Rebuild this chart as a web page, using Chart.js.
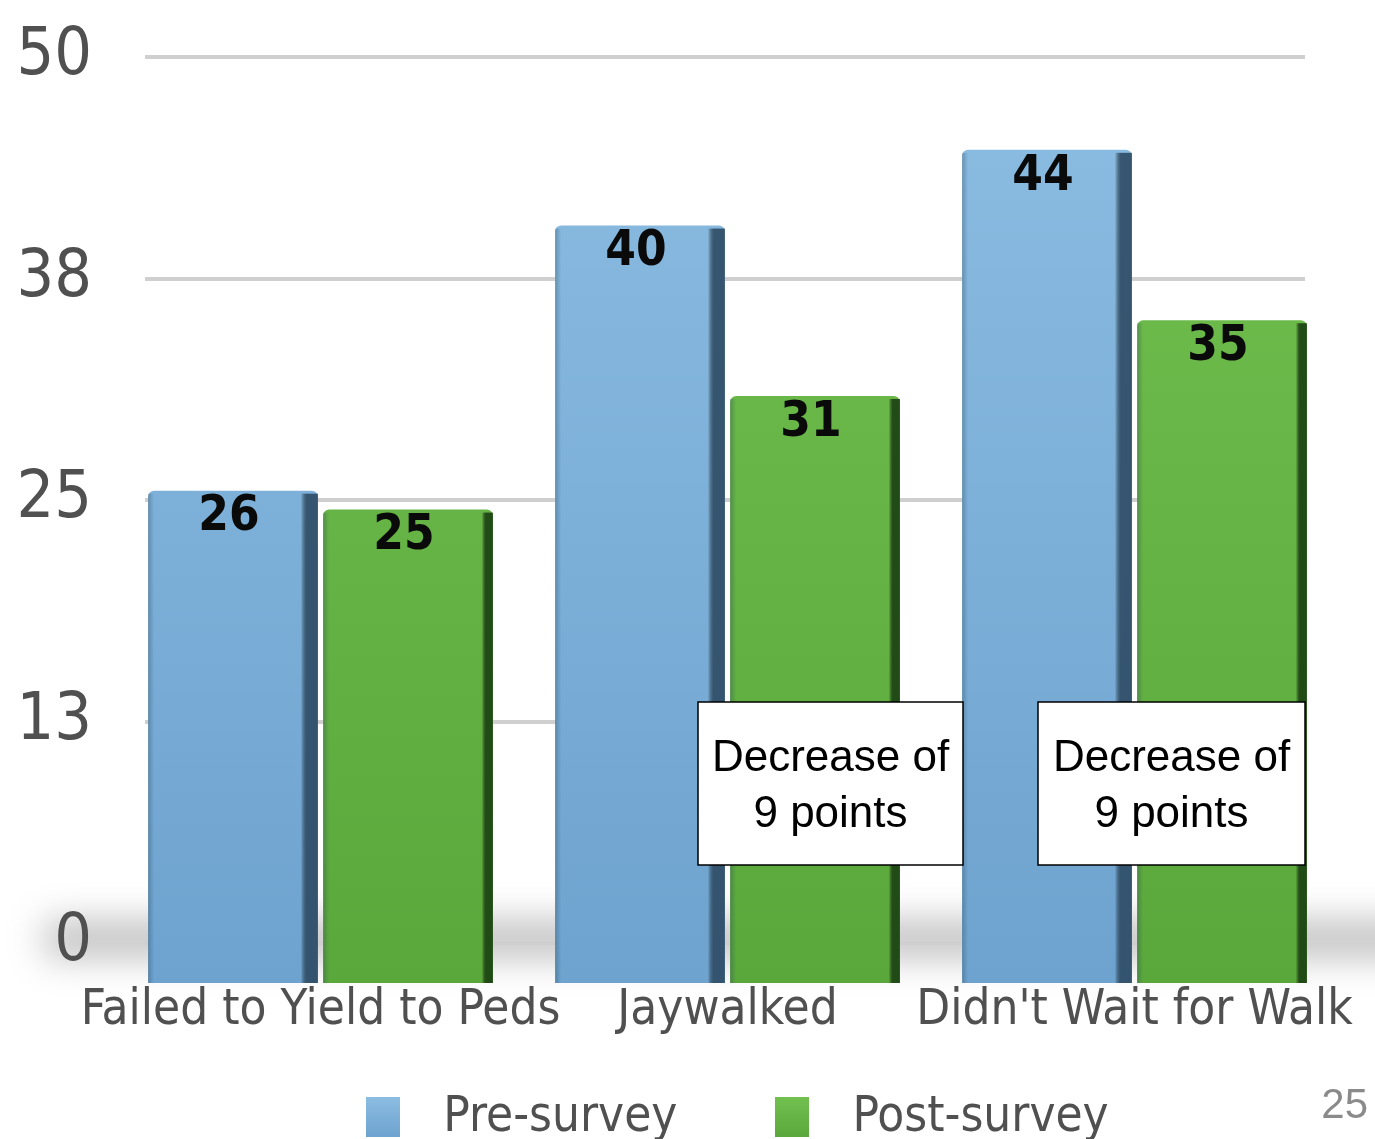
<!DOCTYPE html>
<html>
<head>
<meta charset="utf-8">
<script src="https://cdn.jsdelivr.net/npm/chart.js@4.4.1/dist/chart.umd.min.js"></script>
<style>
  html, body { margin: 0; padding: 0; background: #fff; }
  #wrap { position: relative; width: 1375px; height: 1139px; overflow: hidden; }
  #chart-survey { position: absolute; left: 0; top: 0; }
  #legend {
    position: absolute; left: 0; width: 1375px; top: 1087px;
    box-sizing: border-box; padding-left: 100px;
    display: flex; justify-content: center; align-items: flex-start; gap: 98px;
    font-family: "DejaVu Sans Condensed", "Liberation Sans", sans-serif;
    font-size: 49px; color: #505050; line-height: 56px;
  }
  #legend .item { display: flex; align-items: flex-start; gap: 43px; }
  #legend .box { width: 34px; height: 40px; margin-top: 10px; }
  #page-no {
    position: absolute; right: 7px; top: 1080px;
    font-family: "Liberation Sans", Arial, sans-serif; font-size: 42px; color: #8a8a8a;
  }
</style>
</head>
<body>
<div id="wrap">
  <canvas id="chart-survey" width="1375" height="1139"></canvas>
  <div id="legend"></div>
  <div id="page-no">25</div>
</div>
<script>
// データ
const categories = ["Failed to Yield to Peds", "Jaywalked", "Didn't Wait for Walk"];
const seriesNames = ["Pre-survey", "Post-survey"];
const preSurvey = [26, 40, 44];
const postSurvey = [25, 31, 35];
const wallTicks = [0, 12.5, 25, 37.5, 50];
const noteLines = ["Decrease of", "9 points"];
const noteCategories = [1, 2];

// 見た目の設定
const narrowFont = '"DejaVu Sans Condensed", "Liberation Sans", sans-serif';
const barColors = [
  { top: "#8cbde2", bottom: "#6ea3cf", edge: "rgba(45, 75, 100, 0.9)", edgeWidth: 17 },
  { top: "#72c04f", bottom: "#5aa83b", edge: "rgba(30, 70, 20, 0.95)", edgeWidth: 11 },
];
// 注記ボックスの位置（キャンバス座標）
const noteBoxes = [
  { left: 698, top: 702, width: 265, height: 163 },
  { left: 1038, top: 702, width: 267, height: 163 },
];

const canvas = document.getElementById("chart-survey");

// 床の影（棒の下にぼかした帯）
const floorShadow = {
  id: "floorShadow",
  beforeDraw(chart) {
    const c = chart.ctx;
    const wall = chart.scales.wall;
    const y0 = wall.getPixelForValue(0);
    c.save();
    c.filter = "blur(18px)";
    c.fillStyle = "rgba(0, 0, 0, 0.26)";
    c.fillRect(45, y0 - 22, 1420, 36);
    c.restore();
  },
};

// 奥の壁の目盛り線
const wallGrid = {
  id: "wallGrid",
  beforeDatasetsDraw(chart) {
    const c = chart.ctx;
    const wall = chart.scales.wall;
    const area = chart.chartArea;
    c.save();
    c.strokeStyle = "#cfcfcf";
    c.lineWidth = 4;
    wall.ticks.forEach((t) => {
      const y = Math.round(wall.getPixelForValue(t.value));
      c.beginPath();
      c.moveTo(area.left + 28, y);
      c.lineTo(area.right - 33, y);
      c.stroke();
    });
    c.restore();
  },
};

// 棒の右側面と数値ラベル
const barDecor = {
  id: "barDecor",
  afterDatasetsDraw(chart) {
    const c = chart.ctx;
    chart.data.datasets.forEach((ds, di) => {
      const meta = chart.getDatasetMeta(di);
      const style = barColors[di];
      meta.data.forEach((bar, i) => {
        const p = bar.getProps(["x", "y", "base", "width"], true);
        const right = p.x + p.width / 2;
        const left = p.x - p.width / 2;
        c.save();
        const g = c.createLinearGradient(right - style.edgeWidth, 0, right, 0);
        g.addColorStop(0, "rgba(0,0,0,0)");
        g.addColorStop(0.35, style.edge);
        g.addColorStop(1, style.edge);
        c.fillStyle = g;
        c.fillRect(right - style.edgeWidth, p.y + 3, style.edgeWidth, p.base - p.y - 3);
        const lg = c.createLinearGradient(left, 0, left + 6, 0);
        lg.addColorStop(0, "rgba(40,70,90,0.35)");
        lg.addColorStop(1, "rgba(40,70,90,0)");
        c.fillStyle = lg;
        c.fillRect(left, p.y + 3, 6, p.base - p.y - 3);

        c.fillStyle = "#0a0a0a";
        c.font = "bold 49px " + narrowFont;
        c.textAlign = "center";
        c.textBaseline = "middle";
        c.fillText(String(ds.data[i]), p.x - 4, p.y + 27);
        c.restore();
      });
    });
  },
};

// 注記ボックス
const notes = {
  id: "notes",
  afterDraw(chart) {
    const c = chart.ctx;
    c.save();
    noteCategories.forEach((cat, k) => {
      const b = noteBoxes[k];
      c.fillStyle = "#ffffff";
      c.fillRect(b.left, b.top, b.width, b.height);
      c.strokeStyle = "#000000";
      c.lineWidth = 1.5;
      c.strokeRect(b.left, b.top, b.width, b.height);
      c.fillStyle = "#000000";
      c.font = '44px "Liberation Sans", Arial, sans-serif';
      c.textAlign = "center";
      c.textBaseline = "middle";
      noteLines.forEach((line, j) => {
        c.fillText(line, b.left + b.width / 2, b.top + 57 + j * 56);
      });
    });
    c.restore();
  },
};

function barFill(di) {
  return (ctx) => {
    const area = ctx.chart.chartArea;
    if (!area) return barColors[di].bottom;
    const g = ctx.chart.ctx.createLinearGradient(0, area.top, 0, area.bottom);
    g.addColorStop(0, barColors[di].top);
    g.addColorStop(1, barColors[di].bottom);
    return g;
  };
}

const chart = new Chart(canvas, {
  type: "bar",
  data: {
    labels: categories,
    datasets: [
      { label: seriesNames[0], data: preSurvey, backgroundColor: barFill(0), yAxisID: "y" },
      { label: seriesNames[1], data: postSurvey, backgroundColor: barFill(1), yAxisID: "y" },
    ],
  },
  options: {
    responsive: false,
    animation: false,
    layout: { padding: { left: 0, right: 37, top: 57, bottom: 102 } },
    datasets: {
      bar: {
        categoryPercentage: 0.86,
        barPercentage: 0.97,
        borderRadius: { topLeft: 6, topRight: 6 },
        borderSkipped: "bottom",
      },
    },
    scales: {
      x: {
        grid: { display: false },
        border: { display: false },
        ticks: {
          color: "#505050",
          padding: 0,
          maxRotation: 0,
          autoSkip: false,
          font: { family: narrowFont, size: 49, lineHeight: 0.82 },
        },
        afterFit(scale) { scale.height = 54; },
      },
      // 棒の高さ用（手前の面）
      y: {
        display: false,
        min: 0,
        max: 48.9,
      },
      // 奥の壁の目盛り
      wall: {
        position: "left",
        min: -2.25,
        max: 50,
        grid: { display: false },
        border: { display: false },
        afterBuildTicks(scale) {
          scale.ticks = wallTicks.map((v) => ({ value: v }));
        },
        ticks: {
          color: "#505050",
          padding: 17,
          font: { family: narrowFont, size: 66 },
          callback: (v) => String(Math.round(v)),
        },
        afterFit(scale) { scale.width = 117; },
      },
    },
    plugins: {
      legend: { display: false },
      tooltip: { enabled: false },
    },
  },
  plugins: [floorShadow, wallGrid, barDecor, notes],
});

// 凡例（HTML）
const legendEl = document.getElementById("legend");
chart.data.datasets.forEach((ds, di) => {
  const item = document.createElement("div");
  item.className = "item";
  const box = document.createElement("div");
  box.className = "box";
  box.style.background = "linear-gradient(180deg, " + barColors[di].top + ", " + barColors[di].bottom + ")";
  const text = document.createElement("span");
  text.textContent = ds.label;
  item.appendChild(box);
  item.appendChild(text);
  legendEl.appendChild(item);
});
</script>
</body>
</html>
